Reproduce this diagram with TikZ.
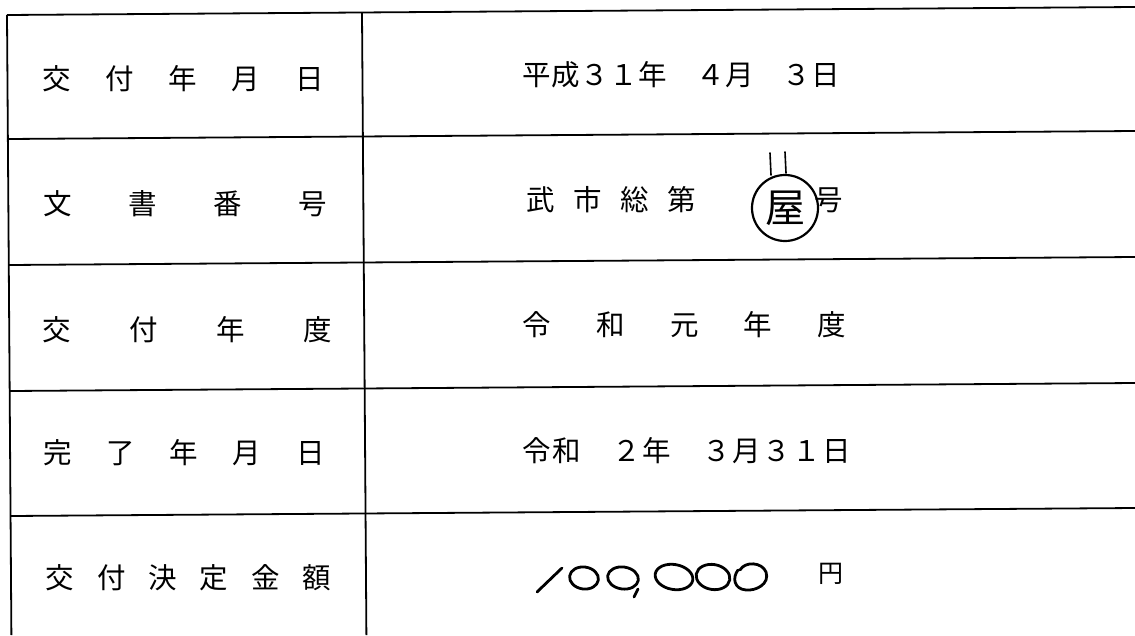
\documentclass[tikz,border=0pt]{standalone}
\usepackage{fontspec}
\newfontfamily\jp{Noto Sans CJK JP}
\begin{document}
\begin{tikzpicture}[x=1pt,y=-1pt,
  tbl/.style={line width=1.8pt, black},
  txt/.style={inner sep=0pt, font=\jp\fontsize{28.5}{28.5}\selectfont},
  hand/.style={line width=2.8pt, black, line cap=round, line join=round},
  stampc/.style={circle, draw, line width=2.2pt, minimum size=66pt, inner sep=0pt, font=\jp\fontsize{40}{40}\selectfont}]
\useasboundingbox (0,0) rectangle (1135,635);
% table grid (slightly skewed as scanned)
\coordinate (tl) at (7,15);      \coordinate (tr) at (1135,7);
\coordinate (h1l) at (7.9,139);  \coordinate (h1r) at (1135,131);
\coordinate (h2l) at (8.8,265);  \coordinate (h2r) at (1135,257);
\coordinate (h3l) at (9.7,391);  \coordinate (h3r) at (1135,383);
\coordinate (h4l) at (10.6,516); \coordinate (h4r) at (1135,508);
\coordinate (bl) at (11.4,635);
\coordinate (ct) at (362,12.5);  \coordinate (cb) at (366.4,635);
\draw[tbl] (tl) -- (tr);
\draw[tbl] (h1l) -- (h1r);
\draw[tbl] (h2l) -- (h2r);
\draw[tbl] (h3l) -- (h3r);
\draw[tbl] (h4l) -- (h4r);
\draw[tbl] (tl) -- (bl);
\draw[tbl] (ct) -- (cb);
% left column labels
\node[txt] (l1) at (183,79) {\foreach \c in {交,付,年,月,日}{\makebox[63.25pt]{\c}}};
\node[txt] (l2) at (185.5,204) {\foreach \c in {文,書,番,号}{\makebox[85pt]{\c}}};
\node[txt] (l3) at (187,330) {\foreach \c in {交,付,年,度}{\makebox[87pt]{\c}}};
\node[txt] (l4) at (184,453) {\foreach \c in {完,了,年,月,日}{\makebox[63.25pt]{\c}}};
\node[txt] (l5) at (188.5,578) {\foreach \c in {交,付,決,定,金,額}{\makebox[51.4pt]{\c}}};
% right column values
\node[txt] (r1) at (681.5,75) {\foreach \c in {平,成,３,１,年,　,４,月,　,３,日}{\makebox[28.9pt]{\c}}};
\node[txt] (r2) at (611.5,200) {\foreach \c in {武,市,総,第}{\makebox[47pt]{\c}}};
\node[txt] (r2b) at (829,200) {号};
\node[stampc] (stamp) at (785,208) {屋};
\coordinate (s1a) at (770,153); \coordinate (s1b) at (771,175);
\coordinate (s2a) at (785,152); \coordinate (s2b) at (786,173);
\draw[line width=1.6pt, line cap=round] (s1a) -- (s1b);
\draw[line width=1.6pt, line cap=round] (s2a) -- (s2b);
\node[txt] (r3) at (684.5,325) {\foreach \c in {令,和,元,年,度}{\makebox[73.7pt]{\c}}};
\node[txt] (r4) at (687,451) {\foreach \c in {令,和,　,２,年,　,３,月,３,１,日}{\makebox[30pt]{\c}}};
% handwritten amount
\coordinate (oa) at (537,592); \coordinate (ob) at (562,568);
\draw[hand] (oa) -- (ob);
\draw[hand, rotate around={-8:(584,578)}] (584,578) ellipse [x radius=14.5, y radius=11];
\draw[hand, rotate around={-8:(623,578)}] (623,578) ellipse [x radius=15.5, y radius=11];
\coordinate (ca) at (638,589); \coordinate (cb2) at (634,597);
\draw[hand] (ca) -- (cb2);
\draw[hand, rotate around={-10:(674,577)}] (674,577) ellipse [x radius=19, y radius=12.5];
\draw[hand, rotate around={-10:(713,577)}] (713,577) ellipse [x radius=17, y radius=12.5];
\draw[hand] (740,570) .. controls (745,561) and (762,562) .. (766,572) .. controls (770,584) and (756,591) .. (746,590) .. controls (734,589) and (732,578) .. (738,570);
\node[txt, font=\jp\fontsize{25}{25}\selectfont] (yen) at (831,574) {円};
\end{tikzpicture}
\end{document}
